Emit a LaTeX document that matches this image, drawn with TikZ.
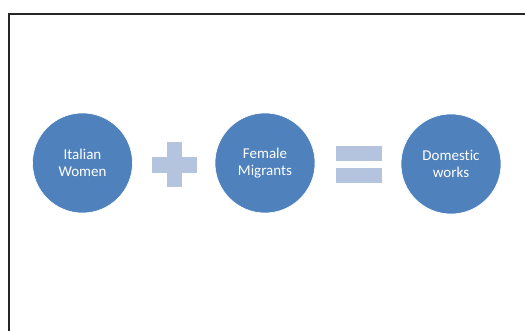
\documentclass[tikz,border=0pt]{standalone}
\usepackage{fontspec}
\setmainfont[Ligatures=NoCommon]{Carlito}
\definecolor{circ}{HTML}{4F81BD}
\definecolor{sym}{HTML}{B4C4DF}
\begin{document}
\begin{tikzpicture}[x=1pt,y=1pt,
  bubble/.style={circle,fill=circ,draw=white,line width=0.6pt,minimum size=100pt,inner sep=0pt,text=white,font=\fontsize{15}{17}\selectfont,align=center},
  symb/.style={fill=sym,draw=none}]
\useasboundingbox (0,0) rectangle (525,331);
\draw[line width=1.4pt,color=black!85] (9,-5) -- (9,317) -- (530,317);
\node[bubble] (a) at (82.5,168) {Italian\\Women};
\node[bubble] (b) at (265,168) {Female\\Migrants};
\node[bubble] (c) at (451,167) {Domestic\\works};
% plus
\fill[symb] (152,331-157) rectangle (197,331-173);
\fill[symb] (166.5,331-142) rectangle (181.5,331-187);
% equals
\fill[symb] (336,331-146.5) rectangle (382,331-161.5);
\fill[symb] (336,331-168) rectangle (382,331-183);
\end{tikzpicture}
\end{document}
